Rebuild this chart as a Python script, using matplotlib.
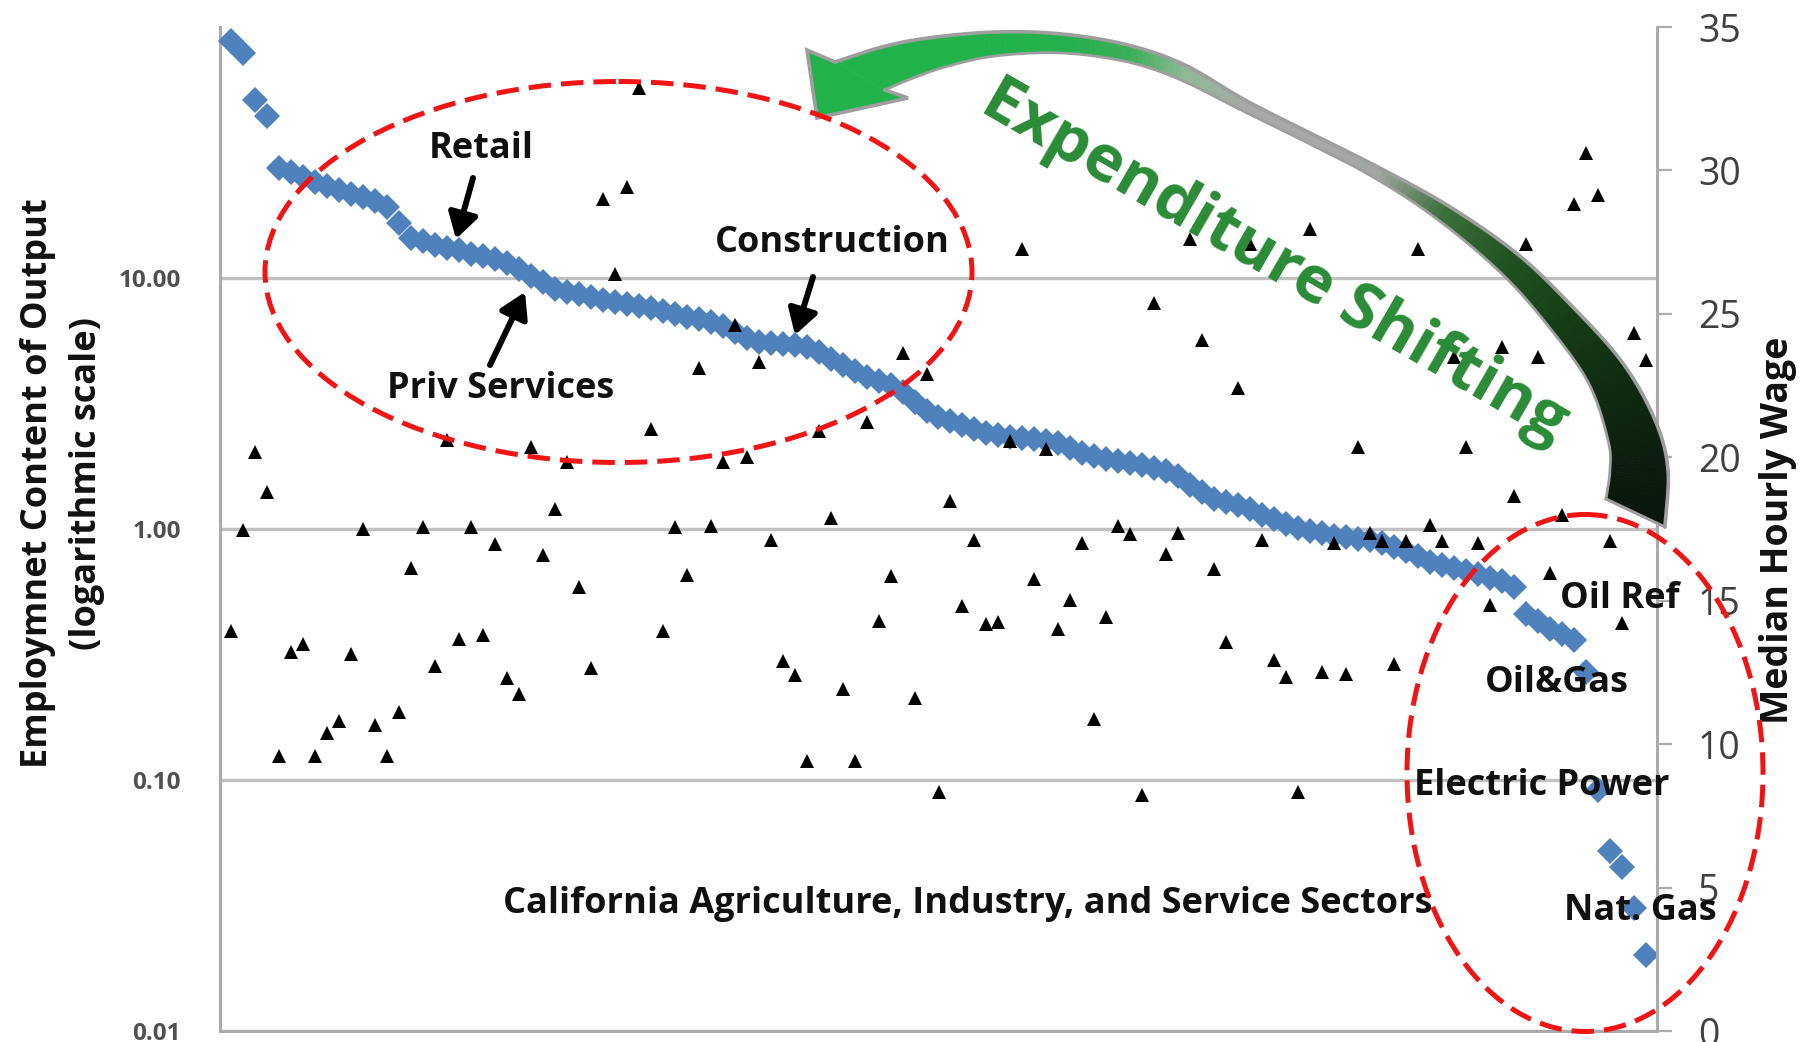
import numpy as np
import matplotlib
matplotlib.use('Agg')
import matplotlib.pyplot as plt
from matplotlib.patches import Ellipse, Polygon
from matplotlib.colors import to_rgb
from matplotlib.ticker import NullLocator

# ---------------- data ----------------
emp = [88, 79, 51, 44, 27.5, 26.5, 25.3, 24.2, 23.3, 22.4,
       21.6, 21.0, 20.3, 19.2, 16.5, 14.4, 14.0, 13.5, 13.2, 12.9,
       12.5, 12.2, 11.9, 11.5, 10.9, 10.2, 9.6, 9.0, 8.8, 8.6,
       8.4, 8.2, 8.05, 7.9, 7.75, 7.6, 7.4, 7.2, 7.0, 6.85,
       6.65, 6.45, 6.1, 5.75, 5.55, 5.5, 5.45, 5.4, 5.3, 5.05,
       4.75, 4.5, 4.25, 4.05, 3.9, 3.75, 3.5, 3.2, 2.95, 2.8,
       2.7, 2.6, 2.5, 2.42, 2.36, 2.33, 2.3, 2.28, 2.25, 2.2,
       2.1, 2.0, 1.95, 1.9, 1.87, 1.83, 1.8, 1.75, 1.7, 1.62,
       1.5, 1.4, 1.32, 1.28, 1.25, 1.2, 1.14, 1.1, 1.05, 1.01,
       0.98, 0.96, 0.94, 0.93, 0.91, 0.90, 0.88, 0.85, 0.82, 0.78,
       0.74, 0.72, 0.70, 0.68, 0.66, 0.64, 0.62, 0.59, 0.46, 0.43,
       0.40, 0.38, 0.36, 0.27, 0.091, 0.052, 0.045, 0.031, 0.020]

wage = [13.96, 17.48, 20.19, 18.79, 9.57, 13.2, 13.5, 9.57, 10.39, 10.8,
        13.14, 17.5, 10.65, 9.57, 11.12, 16.15, 17.56, 12.73, 20.6, 13.67,
        17.56, 13.82, 16.97, 12.32, 11.74, 20.35, 16.6, 18.18, 19.82, 15.49,
        12.67, 29.0, 26.38, 29.42, 32.88, 21.0, 13.96, 17.56, 15.9, 23.1,
        17.59, 19.82, 24.62, 20.0, 23.33, 17.1, 12.89, 12.42, 9.42, 20.9,
        17.89, 11.91, 9.42, 21.23, 14.31, 15.87, 23.63, 11.62, 22.92, 8.34,
        18.47, 14.82, 17.13, 14.2, 14.26, 20.58, 27.26, 15.74, 20.29, 14.0,
        15.02, 17.0, 10.86, 14.43, 17.62, 17.34, 8.22, 25.38, 16.63, 17.36,
        27.6, 24.09, 16.1, 13.55, 22.4, 27.43, 17.13, 12.93, 12.35, 8.34,
        27.96, 12.53, 17.0, 12.44, 20.35, 17.36, 17.07, 12.79, 17.07, 27.26,
        17.65, 17.07, 23.51, 20.35, 17.0, 14.84, 23.86, 18.65, 27.43, 23.51,
        15.96, 18.0, 28.84, 30.6, 29.13, 17.07, 14.22, 24.33, 23.39]

left_ticks = [0.01, 0.1, 1, 10]
left_labels = ['0.01', '0.10', '1.00', '10.00']
right_ticks = [0, 5, 10, 15, 20, 25, 30, 35]
right_labels = ['0', '5', '10', '15', '20', '25', '30', '35']

left_title = 'Employmnet Content of Output'
left_title2 = '(logarithmic scale)'
right_title = 'Median Hourly Wage'
xaxis_note = 'California Agriculture, Industry, and Service Sectors'

# ---------------- figure ----------------
plt.rcParams['font.family'] = ['Open Sans', 'DejaVu Sans']
W, H = 1814, 1042
fig = plt.figure(figsize=(W / 100, H / 100), dpi=100, facecolor='white')

L, R, T, B = 220, 1657, 27, 1031
ax = fig.add_axes([L / W, 1 - B / H, (R - L) / W, (B - T) / H])
x = np.arange(len(emp))
ax.set_yscale('log')
ax.set_ylim(0.01, 100)
ax.set_xlim(-0.95, len(emp) - 1 + 0.95)
ax.plot(x, emp, linestyle='none', marker='D', ms=13.5, color='#4F81BD',
        mec='#4F81BD', mew=0, clip_on=False, zorder=3)
ax.set_yticks(left_ticks)
ax.set_yticklabels(left_labels)
ax.yaxis.set_minor_locator(NullLocator())
ax.yaxis.grid(True, color='#C0C0C0', lw=2.4)
ax.set_axisbelow(True)
ax.tick_params(axis='y', which='both', length=0, pad=28, labelsize=17.5,
               labelcolor='#505050')
for lb in ax.get_yticklabels():
    lb.set_fontweight('bold')
ax.tick_params(axis='x', length=0, labelbottom=False)
ax.set_xticks([])
for s in ['top', 'right']:
    ax.spines[s].set_visible(False)
for s in ['left', 'bottom']:
    ax.spines[s].set_color('#ABABAB')
    ax.spines[s].set_linewidth(2.2)

ax2 = ax.twinx()
ax2.plot(x, wage, linestyle='none', marker='^', ms=9.5, color='black',
         mew=0, zorder=4, clip_on=False)
ax2.set_ylim(0, 35)
ax2.set_yticks(right_ticks)
ax2.set_yticklabels(right_labels)
ax2.tick_params(axis='y', direction='out', length=10.8, width=1.6,
                color='#ABABAB', pad=18.7, labelsize=27, labelcolor='#404040')
for s in ['top', 'left', 'bottom']:
    ax2.spines[s].set_visible(False)
ax2.spines['right'].set_color('#ABABAB')
ax2.spines['right'].set_linewidth(2.2)

fig.text(38 / W, 1 - 483 / H, left_title, rotation=90, ha='center', va='center',
         fontsize=26, fontweight='bold', color='#111111')
fig.text(87 / W, 1 - 483 / H, left_title2, rotation=90, ha='center', va='center',
         fontsize=26, fontweight='bold', color='#111111')
fig.text(1778 / W, 1 - 530 / H, right_title, rotation=90, ha='center', va='center',
         fontsize=27, fontweight='bold', color='#111111')

# ---------------- overlay (pixel coordinates, y down) ----------------
ov = fig.add_axes([0, 0, 1, 1], zorder=10)
ov.set_xlim(0, W)
ov.set_ylim(H, 0)
ov.axis('off')
ov.patch.set_alpha(0)

txt_kw = dict(fontsize=26, fontweight='bold', color='#111111', ha='center',
              va='baseline', zorder=5)
ov.text(481, 158, 'Retail', **txt_kw)
ov.text(501, 398, 'Priv Services', **txt_kw)
ov.text(832, 252, 'Construction', **txt_kw)
ov.text(968, 913, xaxis_note, **txt_kw)
ov.text(1620, 608, 'Oil Ref', **txt_kw)
ov.text(1557, 692, 'Oil&Gas', **txt_kw)
ov.text(1542, 795, 'Electric Power', **txt_kw)
ov.text(1640, 920, 'Nat. Gas', **txt_kw)

ov.text(1274, 262, 'Expenditure Shifting', fontsize=47, fontweight='bold',
        color='#2B8B37', rotation=-30, rotation_mode='anchor',
        ha='center', va='center', zorder=5)

# black arrows
for tail, tip in [((473, 178), (456, 239)), ((490, 365), (525, 292)),
                  ((813, 277), (795, 335))]:
    ov.annotate('', xy=tip, xytext=tail,
                arrowprops=dict(arrowstyle='-|>,head_length=0.75,head_width=0.45',
                                mutation_scale=20, lw=4.3, color='black',
                                shrinkA=0, shrinkB=0), zorder=6)

# red dashed ellipses
for (cx, cy, w, h) in [(618.5, 272, 707, 381), (1585, 773, 356, 517)]:
    ov.add_patch(Ellipse((cx, cy), w, h, fill=False, edgecolor='#F01414',
                         lw=3.6, linestyle=(0, (4.5, 2.0)), zorder=7))

# curved green arrow


def catmull(P, m=12):
    P = np.asarray(P, float)
    Pe = np.vstack([2 * P[0] - P[1], P, 2 * P[-1] - P[-2]])
    out = []
    for k in range(1, len(Pe) - 2):
        p0, p1, p2, p3 = Pe[k - 1], Pe[k], Pe[k + 1], Pe[k + 2]
        for t in np.linspace(0, 1, m, endpoint=False):
            t2 = t * t
            t3 = t2 * t
            out.append(0.5 * ((2 * p1) + (-p0 + p2) * t + (2 * p0 - 5 * p1 + 4 * p2 - p3) * t2
                              + (-p0 + 3 * p1 - 3 * p2 + p3) * t3))
    out.append(P[-1])
    return np.array(out)


outer = [(835, 62), (882, 47), (928, 38), (995, 32), (1062, 34), (1128, 45),
         (1185, 65), (1245, 100), (1310, 133), (1378, 167), (1447, 205),
         (1515, 252), (1568, 302), (1622, 362), (1655, 420), (1668, 470), (1665, 527)]
inner = [(885, 90), (908, 80), (945, 67), (995, 56), (1062, 53), (1128, 62),
         (1181, 80), (1241, 110), (1306, 142), (1373, 177), (1437, 219),
         (1500, 272), (1545, 322), (1588, 382), (1608, 440), (1610, 470), (1606, 499)]
cols = ['#22B24C', '#22B24C', '#22B24C', '#22B24C', '#24B04C', '#3BAE58',
        '#8DB896', '#A8A8A8', '#A8A8A8', '#A2A6A2', '#3A6E3A', '#1F5121',
        '#173F18', '#112D12', '#0D220E', '#0B1B0C', '#0A160A']
m = 12
o = catmull(outer, m)
i_ = catmull(inner, m)
u = np.arange(len(o)) / m
rgb = np.array([to_rgb(c) for c in cols])
cc = np.stack([np.interp(u, np.arange(len(cols)), rgb[:, k]) for k in range(3)], axis=1)
for j in range(len(o) - 1):
    col = tuple(cc[j])
    ov.add_patch(Polygon([o[j], o[j + 1], i_[j + 1], i_[j]], closed=True,
                         facecolor=col, edgecolor=col, lw=0.6, zorder=4))
head = [(835, 62), (807, 50), (817, 118), (908, 98), (885, 90)]
ov.add_patch(Polygon(head, closed=True, facecolor='#22B24C', edgecolor='none', zorder=4))
edge = '#9E9E9E'
ov.plot(o[:, 0], o[:, 1], color=edge, lw=2.6, zorder=4.5, solid_capstyle='round')
ov.plot(i_[:, 0], i_[:, 1], color=edge, lw=2.0, zorder=4.5, solid_capstyle='round')
ov.plot([o[-1, 0], i_[-1, 0]], [o[-1, 1], i_[-1, 1]], color=edge, lw=2.2, zorder=4.5)
hx, hy = zip(*head)
ov.plot(hx, hy, color=edge, lw=2.6, zorder=4.5, solid_joinstyle='miter')

fig.savefig('out.png', dpi=100, facecolor='white')
